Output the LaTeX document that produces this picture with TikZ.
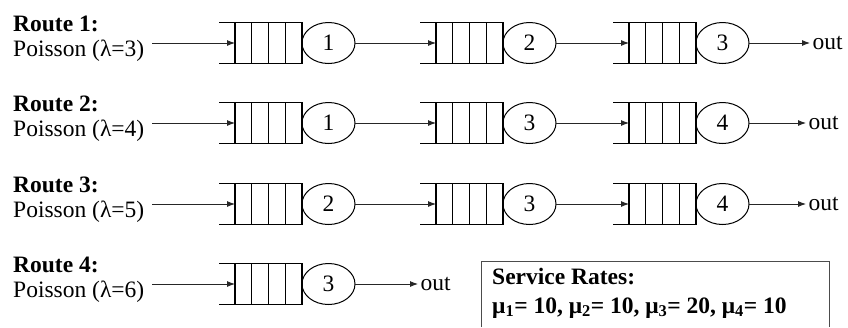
\documentclass[tikz,border=0pt]{standalone}
\usepackage{fontspec}
\setmainfont{Liberation Serif}
\usetikzlibrary{shapes.geometric,arrows.meta,calc}

\newcommand\bigtext{\fontsize{23.5}{26}\selectfont}

\tikzset{
  x=1pt, y=-1pt,
  qline/.style={line width=1.4pt, black},
  qbox/.style={draw, line width=1.4pt, minimum width=67pt, minimum height=41pt,
    inner sep=0pt, outer sep=0pt},
  srv/.style={ellipse, draw, line width=1pt, minimum width=53pt, minimum height=41pt,
    inner sep=0pt, outer sep=0pt, font=\bigtext},
  flow/.style={line width=0.9pt, black!85, -{Latex[length=8pt,width=6pt]}},
  lbl/.style={anchor=base west, inner sep=0pt, font=\bigtext},
  boldlbl/.style={lbl, font=\bigtext\bfseries},
  outlbl/.style={anchor=west, inner sep=2.5pt, font=\bigtext},
}

% one queueing station: open-ended buffer with four slots, then the server
% #1 name, #2 left end of the buffer lines, #3 row centre, #4 server label
\newcommand\station[4]{%
  \node[qbox] (#1) at ({#2+49.5},#3) {};
  \draw[qline] ([xshift=-16pt]#1.north west) -- (#1.north west);
  \draw[qline] ([xshift=-16pt]#1.south west) -- (#1.south west);
  \foreach \k in {1,2,3}
    \draw[qline] ($(#1.north west)!\k/4!(#1.north east)$) --
                 ($(#1.south west)!\k/4!(#1.south east)$);
  \node[srv, anchor=west] (#1s) at (#1.east) {#4};
}

\begin{document}
\begin{tikzpicture}
\useasboundingbox (0,0) rectangle (848,327);

% route labels
\foreach \r/\l/\yy in {1/3/0, 2/4/80, 3/5/161, 4/6/241} {
  \node[boldlbl] (route\r) at (13,{31+\yy}) {Route \r:};
  \node[lbl] (src\r) at (13,{56+\yy}) {Poisson (λ=\l)};
}

% stations
\station{a1}{219}{43}{1}
\station{a2}{420}{43}{2}
\station{a3}{613}{43}{3}

\station{b1}{219}{123}{1}
\station{b2}{420}{123}{3}
\station{b3}{613}{123}{4}

\station{c1}{219}{204}{2}
\station{c2}{420}{204}{3}
\station{c3}{613}{204}{4}

\station{d1}{219}{284}{3}

% arrival points
\coordinate (ina) at (152,43);
\coordinate (inb) at (152,123);
\coordinate (inc) at (152,204);
\coordinate (ind) at (152,284);

% exits
\node[outlbl] (outa) at (810,43) {out};
\node[outlbl] (outb) at (806,123) {out};
\node[outlbl] (outc) at (806,204) {out};
\node[outlbl] (outd) at (418,284) {out};

% connectors
\draw[flow] (ina) -- (a1.west);
\draw[flow] (a1s.east) -- (a2.west);
\draw[flow] (a2s.east) -- (a3.west);
\draw[flow] (a3s.east) -- (outa.west);

\draw[flow] (inb) -- (b1.west);
\draw[flow] (b1s.east) -- (b2.west);
\draw[flow] (b2s.east) -- (b3.west);
\draw[flow] (b3s.east) -- (outb.west);

\draw[flow] (inc) -- (c1.west);
\draw[flow] (c1s.east) -- (c2.west);
\draw[flow] (c2s.east) -- (c3.west);
\draw[flow] (c3s.east) -- (outc.west);

\draw[flow] (ind) -- (d1.west);
\draw[flow] (d1s.east) -- (outd.west);

% service rate panel, open at the bottom edge
\draw[line width=1pt, black!70] (481,327) |- (829,261) -- (829,327);
\node[boldlbl] (svc) at (492,284) {Service Rates:};
\node[boldlbl] (rates) at (492,313)
  {μ\textsubscript{1}= 10, μ\textsubscript{2}= 10, μ\textsubscript{3}= 20, μ\textsubscript{4}= 10};
\end{tikzpicture}
\end{document}
